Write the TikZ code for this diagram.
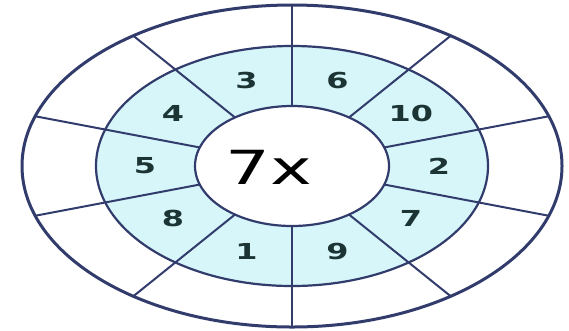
\documentclass[tikz,border=0pt]{standalone}
\usepackage{fontspec}
\setmainfont{DejaVu Sans}
\usetikzlibrary{calc}
\definecolor{ringline}{RGB}{50,60,108}
\definecolor{ringfill}{RGB}{214,246,249}
\definecolor{numcol}{RGB}{28,52,52}
\newcommand{\widetext}[2]{\scalebox{#1}[1]{#2}}
\begin{document}
\begin{tikzpicture}[x=1pt,y=-1pt,
  ringstroke/.style={draw=ringline, line width=2.2pt},
  outerstroke/.style={draw=ringline, line width=3pt},
  spoke/.style={draw=ringline, line width=2pt},
  numlabel/.style={text=numcol, font=\bfseries\fontsize{22}{22}\selectfont, inner sep=0pt},
  centrelabel/.style={text=black, font=\fontsize{47}{47}\selectfont, inner sep=0pt}]
\useasboundingbox (0,0) rectangle (569,330);
\fill[white] (0,0) rectangle (569,330);
\coordinate (c) at (292,166);
% middle ring fill
\fill[ringfill] (c) ellipse [x radius=196pt, y radius=120pt];
% spokes
\foreach \a [count=\i] in {90,54,18,-18,-54,-90,-126,-162,162,126}{
  \coordinate (in\i) at ($(c)+({97*cos(\a)},{-60*sin(\a)})$);
  \coordinate (out\i) at ($(c)+({270*cos(\a)},{-161*sin(\a)})$);
  \draw[spoke] (in\i) -- (out\i);
}
% ellipses
\path[outerstroke] (c) ellipse [x radius=270pt, y radius=161pt];
\path[ringstroke] (c) ellipse [x radius=196pt, y radius=120pt];
\path[ringstroke, fill=white] (c) ellipse [x radius=97pt, y radius=60pt];
% labels
\foreach \a/\t/\n in {108/3/n3,72/6/n6,36/10/n10,0/2/n2,-36/7/n7,-72/9/n9,-108/1/n1,-144/8/n8,180/5/n5,144/4/n4}{
  \node[numlabel] (\n) at ($(c)+({147*cos(\a)},{-90*sin(\a)})$) {\widetext{1.45}{\t}};
}
\node[centrelabel] (centre) at (269,167) {\widetext{1.5}{7x}};
\end{tikzpicture}
\end{document}
